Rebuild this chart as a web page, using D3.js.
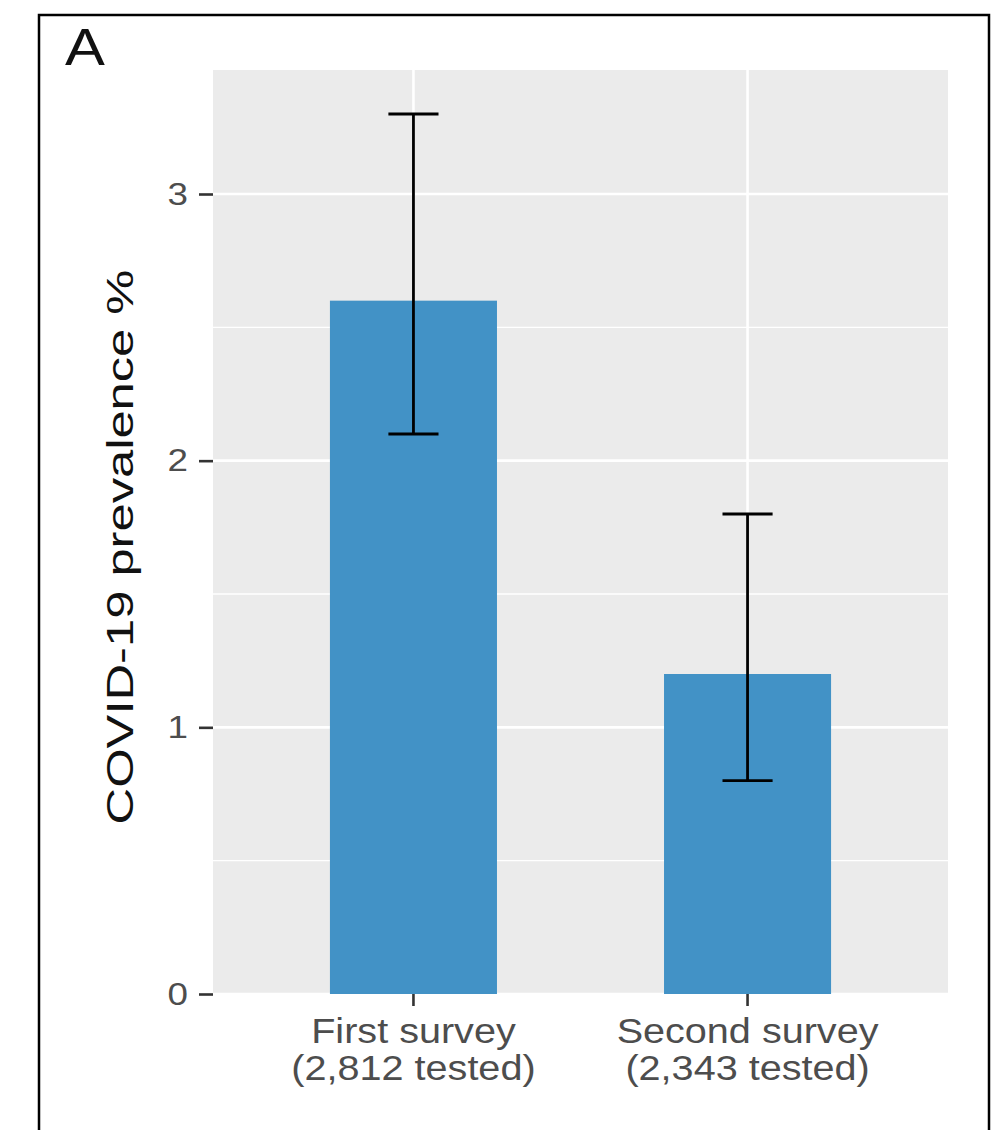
<!DOCTYPE html>
<html>
<head>
<meta charset="utf-8">
<script src="https://cdn.jsdelivr.net/npm/d3@7/dist/d3.min.js"></script>
<style>
  html, body { margin: 0; padding: 0; background: #ffffff; }
  svg { display: block; font-family: "Liberation Sans", Arial, Helvetica, sans-serif; }
</style>
</head>
<body>
<svg id="chart" width="996" height="1130"></svg>
<script>
// Survey categories and prevalence estimates with 95% confidence bounds
const surveys = ["First survey", "Second survey"];
const testedLabels = ["(2,812 tested)", "(2,343 tested)"];
const prevalence = [2.6, 1.2];
const ciLower = [2.1, 0.8];
const ciUpper = [3.3, 1.8];
const yTicks = [0, 1, 2, 3];
const yMinorTicks = [0.5, 1.5, 2.5];

const svg = d3.select("#chart");

// Outer frame around the panel figure
svg.append("rect")
  .attr("x", 39).attr("y", 15)
  .attr("width", 950).attr("height", 1130)
  .attr("fill", "none").attr("stroke", "#000").attr("stroke-width", 2.5);

// Panel letter
svg.append("text")
  .attr("transform", "translate(65,65) scale(1.15,1)")
  .attr("font-size", 52)
  .attr("fill", "#111")
  .text("A");

const panel = { left: 213, right: 948, top: 70, bottom: 994 };

const x = d3.scaleBand()
  .domain(surveys)
  .range([panel.left, panel.right])
  .paddingInner(0)
  .paddingOuter(0.1);

const yMax = d3.max(ciUpper) * 1.05;
const y = d3.scaleLinear()
  .domain([0, yMax])
  .range([panel.bottom, panel.top]);

// Panel background
svg.append("rect")
  .attr("x", panel.left).attr("y", panel.top)
  .attr("width", panel.right - panel.left)
  .attr("height", panel.bottom - panel.top)
  .attr("fill", "#ebebeb");

const grid = svg.append("g");
grid.selectAll("line.minor")
  .data(yMinorTicks)
  .join("line")
  .attr("class", "minor")
  .attr("x1", panel.left).attr("x2", panel.right)
  .attr("y1", d => y(d)).attr("y2", d => y(d))
  .attr("stroke", "#fff").attr("stroke-width", 1.3);
grid.selectAll("line.major")
  .data(yTicks)
  .join("line")
  .attr("class", "major")
  .attr("x1", panel.left).attr("x2", panel.right)
  .attr("y1", d => y(d)).attr("y2", d => y(d))
  .attr("stroke", "#fff").attr("stroke-width", 2.6);
grid.selectAll("line.vmajor")
  .data(surveys)
  .join("line")
  .attr("class", "vmajor")
  .attr("x1", d => x(d) + x.bandwidth() / 2).attr("x2", d => x(d) + x.bandwidth() / 2)
  .attr("y1", panel.top).attr("y2", panel.bottom)
  .attr("stroke", "#fff").attr("stroke-width", 2.6);

// Bars
const barW = x.step() * 0.5;
svg.append("g")
  .selectAll("rect")
  .data(surveys)
  .join("rect")
  .attr("x", d => x(d) + x.bandwidth() / 2 - barW / 2)
  .attr("width", barW)
  .attr("y", (d, i) => y(prevalence[i]))
  .attr("height", (d, i) => y(0) - y(prevalence[i]))
  .attr("fill", "#4292c6");

// Error bars
const capW = x.step() * 0.15;
const eb = svg.append("g")
  .attr("stroke", "#000").attr("stroke-width", 2.8).attr("fill", "none");
surveys.forEach((s, i) => {
  const cx = x(s) + x.bandwidth() / 2;
  eb.append("line").attr("x1", cx).attr("x2", cx)
    .attr("y1", y(ciLower[i])).attr("y2", y(ciUpper[i]));
  eb.append("line").attr("x1", cx - capW / 2).attr("x2", cx + capW / 2)
    .attr("y1", y(ciLower[i])).attr("y2", y(ciLower[i]));
  eb.append("line").attr("x1", cx - capW / 2).attr("x2", cx + capW / 2)
    .attr("y1", y(ciUpper[i])).attr("y2", y(ciUpper[i]));
});

// Y axis
const tickLabelScale = 1.15;
const yAxis = svg.append("g")
  .attr("transform", `translate(${panel.left},0)`)
  .call(d3.axisLeft(y).tickValues(yTicks).tickFormat(d3.format("d")).tickSize(14).tickPadding(11));
yAxis.select(".domain").remove();
yAxis.selectAll(".tick line").attr("stroke", "#333").attr("stroke-width", 2.6);
yAxis.selectAll(".tick text")
  .attr("font-size", 32)
  .attr("fill", "#4d4d4d")
  .attr("x", -25 / tickLabelScale)
  .attr("transform", `scale(${tickLabelScale},1)`);

// X axis with two-line category labels
const xAxis = svg.append("g")
  .attr("transform", `translate(0,${panel.bottom})`)
  .call(d3.axisBottom(x).tickSize(12).tickFormat(""));
xAxis.select(".domain").remove();
xAxis.selectAll(".tick line").attr("stroke", "#333").attr("stroke-width", 2.6);
xAxis.selectAll(".tick").each(function(d, i) {
  const t = d3.select(this).select("text");
  t.attr("font-size", 36)
    .attr("fill", "#4d4d4d")
    .attr("text-anchor", "middle")
    .attr("y", null).attr("dy", null)
    .attr("transform", "scale(1.1,1)");
  t.append("tspan").attr("x", 0).attr("y", 49).text(surveys[i]);
  t.append("tspan").attr("x", 0).attr("y", 86).text(testedLabels[i]);
});

// Y axis title
svg.append("text")
  .attr("transform", `translate(133,547) rotate(-90) scale(1.37,1)`)
  .attr("text-anchor", "middle")
  .attr("font-size", 37)
  .attr("fill", "#111")
  .text("COVID-19 prevalence %");
</script>
</body>
</html>
